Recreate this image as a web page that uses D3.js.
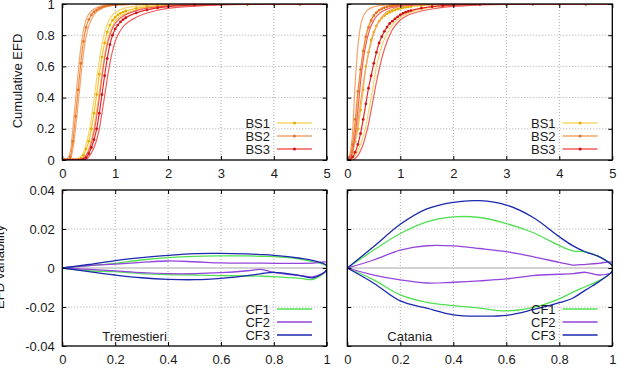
<!DOCTYPE html>
<html><head><meta charset="utf-8">
<script src="https://cdn.jsdelivr.net/npm/d3@7"></script>
<style>
body{margin:0;background:#fff}
svg{display:block}
text{font-family:"Liberation Sans",Arial,Helvetica,sans-serif;font-size:13px;fill:#1a1a1a}
</style>
</head><body><svg id="c" width="621" height="370"></svg>
<script>
// ---------- DATA ----------
// shared x grid of the cumulative EFD curves
const efdX = [0,0.05,0.1,0.15,0.2,0.25,0.3,0.35,0.4,0.45,0.5,0.55,0.6,0.65,0.7,0.75,0.8,0.85,0.9,0.95,1,1.05,1.1,1.15,1.2,1.4,1.6,1.8,2,2.5,3,3.5,4,4.5,5];

// Tremestieri (top left)
const tremBS1Mid = [0,0,0,0,0,0,0,0.01,0.03,0.07,0.12,0.2,0.3,0.42,0.55,0.66,0.75,0.82,0.865,0.895,0.915,0.93,0.94,0.948,0.955,0.972,0.982,0.988,0.992,0.997,0.999,1,1,1,1];
const tremBS1Lo  = [0,0,0,0,0,0,0.01,0.02,0.05,0.1,0.17,0.27,0.39,0.52,0.64,0.74,0.82,0.87,0.905,0.93,0.945,0.955,0.963,0.97,0.975,0.985,0.991,0.994,0.996,0.999,1,1,1,1,1];
const tremBS1Hi  = [0,0,0,0,0,0,0,0,0.01,0.03,0.07,0.13,0.21,0.32,0.44,0.56,0.67,0.76,0.82,0.86,0.89,0.91,0.922,0.932,0.94,0.962,0.975,0.984,0.989,0.995,0.998,0.999,1,1,1];
const tremBS2Mid = [0,0,0,0.02,0.12,0.28,0.45,0.62,0.76,0.85,0.9,0.93,0.95,0.962,0.972,0.979,0.985,0.989,0.992,0.994,0.996,0.997,0.998,0.998,0.999,1,1,1,1,1,1,1,1,1,1];
const tremBS2Lo  = [0,0,0.01,0.05,0.2,0.38,0.56,0.72,0.83,0.9,0.935,0.955,0.968,0.976,0.983,0.988,0.991,0.993,0.995,0.996,0.997,0.998,0.999,0.999,1,1,1,1,1,1,1,1,1,1,1];
const tremBS2Hi  = [0,0,0,0.01,0.07,0.2,0.36,0.53,0.68,0.79,0.86,0.9,0.93,0.95,0.962,0.972,0.979,0.984,0.988,0.991,0.993,0.995,0.996,0.997,0.998,0.999,1,1,1,1,1,1,1,1,1];
const tremBS3Mid = [0,0,0,0,0,0,0,0,0.005,0.015,0.04,0.08,0.13,0.2,0.3,0.42,0.54,0.65,0.74,0.8,0.84,0.865,0.885,0.9,0.912,0.943,0.962,0.975,0.983,0.993,0.997,0.999,1,1,1];
const tremBS3Lo  = [0,0,0,0,0,0,0,0.005,0.012,0.03,0.06,0.11,0.18,0.28,0.4,0.53,0.65,0.74,0.8,0.845,0.875,0.895,0.91,0.922,0.932,0.958,0.973,0.982,0.988,0.996,0.999,1,1,1,1];
const tremBS3Hi  = [0,0,0,0,0,0,0,0,0,0.005,0.02,0.045,0.08,0.13,0.2,0.3,0.41,0.52,0.62,0.7,0.76,0.8,0.83,0.855,0.872,0.915,0.942,0.96,0.972,0.987,0.995,0.998,0.999,1,1];

// Catania (top right)
const catBS1Mid = [0,0.01,0.05,0.12,0.2,0.32,0.45,0.6,0.69,0.77,0.82,0.86,0.89,0.91,0.925,0.937,0.947,0.955,0.962,0.967,0.972,0.976,0.979,0.982,0.984,0.99,0.994,0.996,0.998,0.999,1,1,1,1,1];
const catBS1Lo  = [0,0.02,0.1,0.22,0.4,0.56,0.69,0.8,0.86,0.9,0.93,0.948,0.96,0.968,0.975,0.98,0.984,0.987,0.99,0.992,0.993,0.994,0.995,0.996,0.997,0.998,0.999,1,1,1,1,1,1,1,1];
const catBS1Hi  = [0,0,0.01,0.03,0.06,0.1,0.15,0.22,0.31,0.4,0.5,0.6,0.67,0.73,0.775,0.81,0.84,0.865,0.885,0.9,0.913,0.924,0.933,0.941,0.948,0.967,0.979,0.987,0.992,0.997,0.999,1,1,1,1];
const catBS2Mid = [0,0.02,0.1,0.26,0.44,0.58,0.7,0.79,0.85,0.895,0.925,0.945,0.96,0.97,0.977,0.982,0.986,0.989,0.991,0.993,0.994,0.995,0.996,0.997,0.997,0.999,1,1,1,1,1,1,1,1,1];
const catBS2Lo  = [0,0.04,0.18,0.5,0.73,0.86,0.92,0.95,0.965,0.975,0.982,0.986,0.989,0.991,0.993,0.994,0.995,0.996,0.997,0.997,0.998,0.998,0.999,0.999,0.999,1,1,1,1,1,1,1,1,1,1];
const catBS2Hi  = [0,0.01,0.05,0.13,0.25,0.37,0.49,0.59,0.68,0.75,0.81,0.855,0.89,0.915,0.935,0.95,0.96,0.968,0.975,0.98,0.984,0.987,0.99,0.992,0.993,0.997,0.999,1,1,1,1,1,1,1,1];
const catBS3Mid = [0,0,0.02,0.05,0.1,0.17,0.26,0.36,0.46,0.54,0.62,0.69,0.75,0.79,0.825,0.852,0.875,0.89,0.905,0.918,0.93,0.94,0.947,0.953,0.958,0.973,0.983,0.989,0.993,0.997,0.999,1,1,1,1];
const catBS3Lo  = [0,0.01,0.06,0.17,0.32,0.5,0.64,0.74,0.81,0.86,0.895,0.92,0.937,0.95,0.96,0.967,0.973,0.978,0.982,0.985,0.987,0.989,0.991,0.992,0.993,0.996,0.998,0.999,1,1,1,1,1,1,1];
const catBS3Hi  = [0,0,0,0.01,0.03,0.06,0.1,0.16,0.23,0.32,0.41,0.5,0.58,0.65,0.71,0.76,0.8,0.835,0.86,0.88,0.897,0.91,0.92,0.929,0.936,0.955,0.968,0.978,0.985,0.994,0.998,0.999,1,1,1];

// EFD variability (bottom), upper and lower envelopes
const tremVarX = [0,0.1,0.2,0.3,0.4,0.5,0.6,0.7,0.75,0.8,0.9,0.95,1];
const tremCF1Up = [0,0.0012,0.0024,0.0041,0.0053,0.006,0.0062,0.0062,0.006,0.0058,0.0046,0.0032,0.001];
const tremCF1Dn = [0,-0.0014,-0.0019,-0.0029,-0.0034,-0.0036,-0.0039,-0.0041,-0.0042,-0.0044,-0.0053,-0.0058,-0.001];
const tremCF2Up = [0,0.0012,0.002,0.0029,0.0036,0.0032,0.0026,0.0025,0.0025,0.0024,0.0024,0.0025,0.0029];
const tremCF2Dn = [0,-0.0007,-0.0015,-0.0024,-0.0029,-0.0029,-0.0024,-0.0014,-0.0007,-0.0022,-0.0039,-0.0044,-0.001];
const tremCF3Up = [0,0.0018,0.0038,0.0053,0.0065,0.0074,0.0075,0.0072,0.0069,0.0065,0.005,0.0038,0.0012];
const tremCF3Dn = [0,-0.0019,-0.0036,-0.005,-0.0058,-0.006,-0.0053,-0.0039,-0.003,-0.0022,-0.0039,-0.005,-0.001];

const catVarX = [0,0.1,0.2,0.3,0.4,0.5,0.6,0.7,0.8,0.85,0.9,0.95,1];
const catCF1Up = [0,0.0092,0.0177,0.0237,0.0262,0.0259,0.0228,0.0182,0.0115,0.0088,0.0082,0.0058,0.0012];
const catCF1Dn = [0,-0.0061,-0.0138,-0.0176,-0.0193,-0.0206,-0.022,-0.0203,-0.0158,-0.0125,-0.0095,-0.0065,-0.0015];
const catCF2Up = [0,0.0041,0.0092,0.0114,0.0113,0.01,0.0084,0.0058,0.0029,0.0015,0.0019,0.0024,0.0029];
const catCF2Dn = [0,-0.0036,-0.0061,-0.0077,-0.0073,-0.0066,-0.0056,-0.0039,-0.0032,-0.0029,-0.0022,-0.0036,-0.002];
const catCF3Up = [0,0.011,0.0224,0.0303,0.0337,0.0345,0.0323,0.026,0.016,0.0115,0.0082,0.0058,0.001];
const catCF3Dn = [0,-0.0078,-0.0169,-0.0206,-0.024,-0.0247,-0.0243,-0.0214,-0.0178,-0.0155,-0.0112,-0.007,-0.0015];

// ticks and labels
const cdfXTicks = [0,1,2,3,4,5];
const cdfYTicks = [0,0.2,0.4,0.6,0.8,1];
const cdfYLabels = ["0","0.2","0.4","0.6","0.8","1"];
const varXTicks = [0,0.2,0.4,0.6,0.8,1];
const varXLabels = ["0","0.2","0.4","0.6","0.8","1"];
const varYTicks = [-0.04,-0.02,0,0.02,0.04];
const varYLabels = ["-0.04","-0.02","0","0.02","0.04"];
const bsNames = ["BS1","BS2","BS3"];
const cfNames = ["CF1","CF2","CF3"];
const siteNames = ["Tremestieri","Catania"];
const yTitles = ["Cumulative EFD","EFD variability"];

// ---------- STYLE ----------
const bsBand = ["#f8d468","#f3a56c","#ef5e5c"];
const bsMid  = ["#f3c232","#ee8a3c","#e32a2a"];
const bsDot  = ["#e2b000","#e6742a","#cf1515"];
const cfCol  = ["#52e052","#9244dc","#1c28ae"];

const svg = d3.select("#c");
svg.append("rect").attr("width",621).attr("height",370).attr("fill","#fff");

const L = [62.3, 326.7], R = [347.3, 612.3];
const T = [160, 4], B = [346, 190];

const panels = [
  {px:L, py:T, kind:"cdf", site:0, showY:true,
   series:[[tremBS1Lo,tremBS1Hi,tremBS1Mid],[tremBS2Lo,tremBS2Hi,tremBS2Mid],[tremBS3Lo,tremBS3Hi,tremBS3Mid]]},
  {px:R, py:T, kind:"cdf", site:1, showY:false,
   series:[[catBS1Lo,catBS1Hi,catBS1Mid],[catBS2Lo,catBS2Hi,catBS2Mid],[catBS3Lo,catBS3Hi,catBS3Mid]]},
  {px:L, py:B, kind:"var", site:0, showY:true, vx:tremVarX,
   series:[[tremCF1Up,tremCF1Dn],[tremCF2Up,tremCF2Dn],[tremCF3Up,tremCF3Dn]]},
  {px:R, py:B, kind:"var", site:1, showY:false, vx:catVarX,
   series:[[catCF1Up,catCF1Dn],[catCF2Up,catCF2Dn],[catCF3Up,catCF3Dn]]}
];

panels.forEach((p,pi)=>{
  const cdf = p.kind==="cdf";
  const x = d3.scaleLinear().domain(cdf?[0,5]:[0,1]).range(p.px);
  const y = d3.scaleLinear().domain(cdf?[0,1]:[-0.04,0.04]).range(p.py);
  const xt = cdf?cdfXTicks:varXTicks;
  const yt = cdf?cdfYTicks:varYTicks;
  const g = svg.append("g");
  const clipId = "clip"+pi;
  g.append("clipPath").attr("id",clipId).append("rect")
    .attr("x",p.px[0]).attr("y",p.py[1]).attr("width",p.px[1]-p.px[0]).attr("height",p.py[0]-p.py[1]);

  // grid
  g.append("g").selectAll("line").data(xt.slice(1,-1)).join("line")
    .attr("x1",d=>x(d)).attr("x2",d=>x(d)).attr("y1",p.py[1]).attr("y2",p.py[0])
    .attr("stroke","#a8a8a8").attr("stroke-width",1).attr("stroke-dasharray","1,2");
  g.append("g").selectAll("line").data(yt.slice(1,-1).filter(d=>cdf||d!==0)).join("line")
    .attr("x1",p.px[0]).attr("x2",p.px[1]).attr("y1",d=>y(d)).attr("y2",d=>y(d))
    .attr("stroke","#a8a8a8").attr("stroke-width",1).attr("stroke-dasharray","1,2");
  if(!cdf){
    g.append("line").attr("x1",p.px[0]).attr("x2",p.px[1]).attr("y1",y(0)).attr("y2",y(0))
      .attr("stroke","#c4c4c4").attr("stroke-width",1.6);
  }

  const data = g.append("g").attr("clip-path","url(#"+clipId+")");
  if(cdf){
    const line = d3.line().x((d,i)=>x(efdX[i])).y(d=>y(d)).curve(d3.curveMonotoneX);
    p.series.forEach((s,si)=>{
      [s[0],s[1]].forEach(arr=>{
        data.append("path").attr("d",line(arr)).attr("fill","none")
          .attr("stroke",bsBand[si]).attr("stroke-width",1.2);
      });
      data.append("path").attr("d",line(s[2])).attr("fill","none")
        .attr("stroke",bsMid[si]).attr("stroke-width",1.2);
      data.append("g").selectAll("circle").data(s[2]).join("circle")
        .attr("cx",(d,i)=>x(efdX[i])).attr("cy",d=>y(d)).attr("r",1.4)
        .attr("fill",bsDot[si]);
    });
  } else {
    const line = d3.line().x(d=>x(d[0])).y(d=>y(d[1])).curve(d3.curveCatmullRom.alpha(0.5));
    p.series.forEach((s,si)=>{
      const up = p.vx.map((v,i)=>[v,s[0][i]]);
      const dn = p.vx.map((v,i)=>[v,s[1][i]]).reverse();
      data.append("path").attr("d",line(up.concat(dn))).attr("fill","none")
        .attr("stroke",cfCol[si]).attr("stroke-width",1.3);
    });
  }

  // axes (inward ticks, gnuplot-like mirror)
  const ax = g.append("g").attr("transform",`translate(0,${p.py[0]})`)
    .call(d3.axisBottom(x).tickValues(xt).tickSize(-4).tickPadding(9)
      .tickFormat((d,i)=>cdf?String(d):varXLabels[i]));
  const axT = g.append("g").attr("transform",`translate(0,${p.py[1]})`)
    .call(d3.axisTop(x).tickValues(xt).tickSize(-4).tickFormat(""));
  const ay = g.append("g").attr("transform",`translate(${p.px[0]},0)`)
    .call(d3.axisLeft(y).tickValues(yt).tickSize(-4).tickPadding(7.5)
      .tickFormat((d,i)=>p.showY?(cdf?cdfYLabels[i]:varYLabels[i]):""));
  const ayR = g.append("g").attr("transform",`translate(${p.px[1]},0)`)
    .call(d3.axisRight(y).tickValues(yt).tickSize(-4).tickFormat(""));
  [ax,axT,ay,ayR].forEach(a=>{
    a.select(".domain").remove();
    a.selectAll(".tick line").attr("stroke","#000").attr("stroke-width",1);
    a.selectAll("text").attr("font-size",13).attr("font-family",'"Liberation Sans",Arial,sans-serif').attr("fill","#1a1a1a");
    a.attr("font-size",null).attr("font-family",null);
  });
  // border
  g.append("rect").attr("x",p.px[0]).attr("y",p.py[1]).attr("width",p.px[1]-p.px[0]).attr("height",p.py[0]-p.py[1])
    .attr("fill","none").attr("stroke","#000").attr("stroke-width",1.3);

  // legend
  const rowsY = cdf?[123,136,149]:[309,322,335];
  const names = cdf?bsNames:cfNames;
  const lg = g.append("g");
  names.forEach((n,i)=>{
    lg.append("text").attr("x",p.px[1]-56.7).attr("y",rowsY[i]).attr("dy","0.36em")
      .attr("text-anchor","end").text(n);
    lg.append("line").attr("x1",p.px[1]-49.7).attr("x2",p.px[1]-14.7).attr("y1",rowsY[i]).attr("y2",rowsY[i])
      .attr("stroke",cdf?bsBand[i]:cfCol[i]).attr("stroke-width",1.3);
    if(cdf){
      lg.append("circle").attr("cx",p.px[1]-32.2).attr("cy",rowsY[i]).attr("r",1.5).attr("fill",bsDot[i]);
    }
  });
  if(!cdf){
    g.append("text").attr("x",p.px[0]+40).attr("y",341).text(siteNames[p.site]);
  }
});

// y axis titles
svg.append("text").attr("transform","translate(21.5,81) rotate(-90)").attr("text-anchor","middle").text(yTitles[0]);
svg.append("text").attr("transform","translate(3.5,267) rotate(-90)").attr("text-anchor","middle").text(yTitles[1]);
</script>
</body></html>
